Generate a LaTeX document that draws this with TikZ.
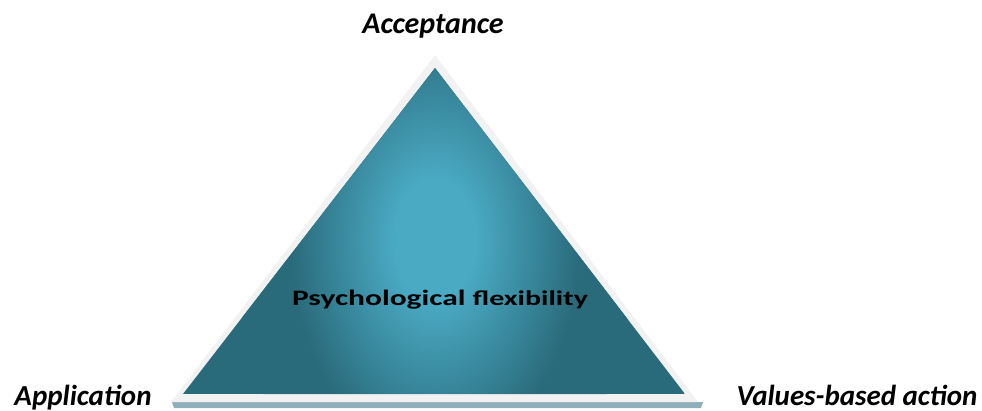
\documentclass[tikz,border=0pt]{standalone}
\usepackage{fontspec}
\setmainfont{Carlito}
\usetikzlibrary{positioning}

\definecolor{tealhi}{HTML}{4AAAC4}
\definecolor{teallo}{HTML}{2A6B7B}
\definecolor{rimgrey}{HTML}{F2F2F2}
\definecolor{shadowblue}{HTML}{8FB0BA}

% 25bp of the shading = edge of the shaded path's box
\pgfdeclareradialshading{tealglow}{\pgfpoint{0bp}{0bp}}{%
  color(0bp)=(tealhi); color(5bp)=(tealhi); color(18bp)=(teallo); color(50bp)=(teallo)}

\begin{document}
\begin{tikzpicture}[x=1pt, y=-1pt,
        corner/.style = {
            font=\fontsize{29}{31}\selectfont\bfseries\itshape,
            inner sep=0pt, anchor=base
        },
        centre/.style = {
            font=\fontsize{22}{24}\selectfont\bfseries,
            inner sep=0pt, anchor=base
        }]

        \useasboundingbox (0,0) rectangle (982,410);

        % outer rim and its shadow
        \coordinate (top) at (435,55);
        \coordinate (left) at (171,402);
        \coordinate (right) at (698,402);
        \fill[shadowblue] (172,402) -- (703,402) -- (701,408) -- (174,408) -- cycle;
        \fill[rimgrey] (top) -- (left) -- (right) -- cycle;

        % inner triangle with glow
        \coordinate (itop) at (435,68);
        \coordinate (ileft) at (183,394);
        \coordinate (iright) at (685,394);
        \begin{scope}
            \clip (itop) -- (ileft) -- (iright) -- cycle;
            \fill[teallo] (ileft) rectangle (685,68);
            \shade[shading=tealglow] (435,240) ellipse (200 and 300);
        \end{scope}

        \node[corner] (acc) at (433,33) {\fontsize{30}{32}\selectfont Acceptance};
        \node[corner] (app) at (83,405) {Application};
        \node[corner] (val) at (857,405) {Values-based action};
        \node[centre] (psy) at (440,305) {\scalebox{1.43}[1]{Psychological {\fontsize{21}{23}\selectfont flexibility}}};
    \end{tikzpicture}
\end{document}
